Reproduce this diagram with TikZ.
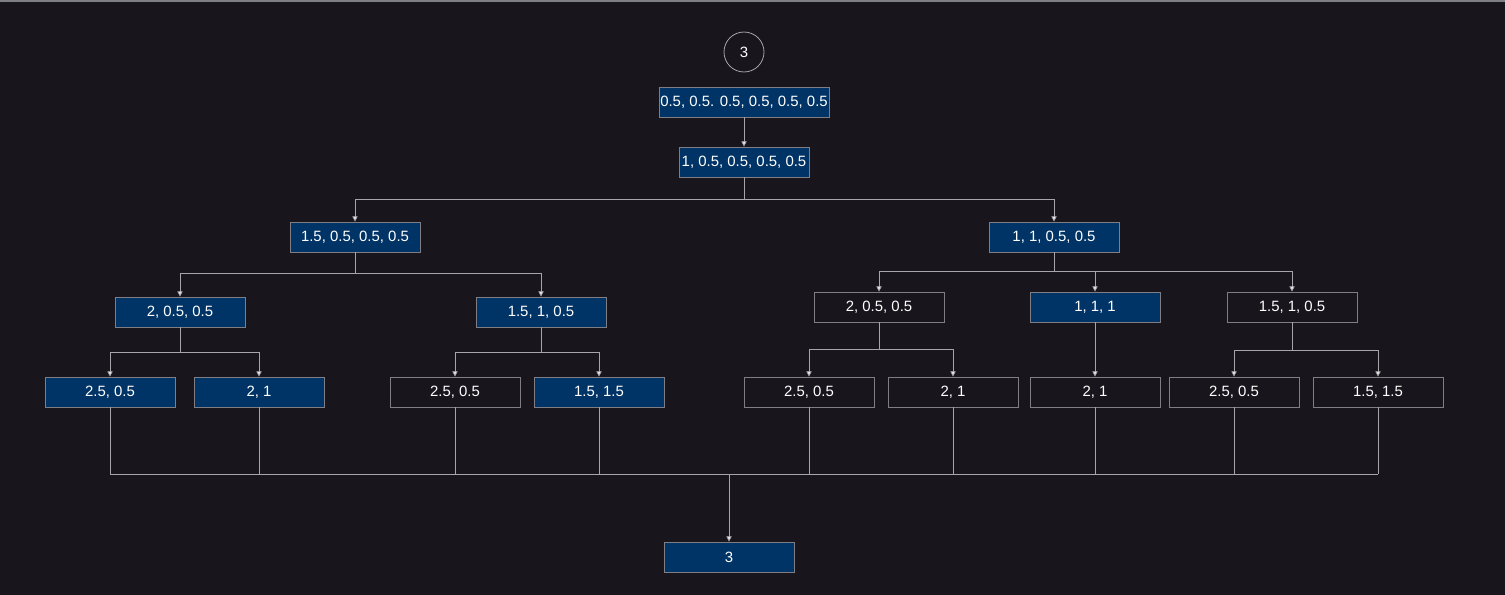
\documentclass[tikz,border=0pt]{standalone}
\usepackage{fontspec}
\setmainfont{Liberation Sans}
\usetikzlibrary{positioning,arrows.meta,calc}
\definecolor{bgdark}{HTML}{18151C}
\definecolor{navyfill}{HTML}{003366}
\definecolor{edgegray}{HTML}{7E7E84}
\definecolor{linegray}{HTML}{A6A6AA}

\tikzset{
    box/.style={draw=edgegray, line width=0.45pt, minimum width=2.6cm, minimum height=0.6cm,
        inner sep=0pt, text=white, font=\fontsize{8.5}{10}\selectfont},
    boxsel/.style={box, fill=navyfill},
    link/.style={draw=linegray, line width=0.45pt},
    arr/.style={link, -{Triangle[width=3pt,length=3pt,fill=white!85!linegray]}},
}

\begin{document}
\begin{tikzpicture}[x=0.02cm, y=-0.02cm]
        % background and frame
        \fill[bgdark] (0,0) rectangle (1505,595);
        \useasboundingbox (0,0) rectangle (1505,595);
        \draw[edgegray, line width=0.6pt] (0,1) -- (1505,1);

        % Level 0: start
        \node[circle, draw=linegray, line width=0.45pt, minimum size=0.8cm, inner sep=0pt,
            text=white, font=\fontsize{8.5}{10}\selectfont] (start) at (744,52) {3};

        % Level 1
        \node[boxsel, minimum width=3.4cm] (root) at (744,102) {0.5, 0.5. 0.5, 0.5, 0.5, 0.5};
        \node[boxsel] (n1) at (744,162) {1, 0.5, 0.5, 0.5, 0.5};
        \draw[arr] (root) -- (n1);

        % Level 2
        \node[boxsel] (n2l) at (355,237) {1.5, 0.5, 0.5, 0.5};
        \node[boxsel] (n2r) at (1054,237) {1, 1, 0.5, 0.5};
        \draw[arr] (n1.south) -- ++(0,22) -| (n2l.north);
        \draw[arr] (n1.south) -- ++(0,22) -| (n2r.north);

        % Level 3, left
        \node[boxsel] (n3a) at (180,312) {2, 0.5, 0.5};
        \node[boxsel] (n3b) at (541,312) {1.5, 1, 0.5};
        \draw[arr] (n2l.south) -- ++(0,21) -| (n3a.north);
        \draw[arr] (n2l.south) -- ++(0,21) -| (n3b.north);

        % Level 3, right
        \node[box] (n3c) at (879,307) {2, 0.5, 0.5};
        \node[boxsel] (n3d) at (1095,307) {1, 1, 1};
        \node[box] (n3e) at (1292,307) {1.5, 1, 0.5};
        \draw[arr] (n2r.south) -- ++(0,19) -| (n3c.north);
        \draw[arr] (n2r.south) -- ++(0,19) -| (n3d.north);
        \draw[arr] (n2r.south) -- ++(0,19) -| (n3e.north);

        % Level 4
        \node[boxsel] (l1) at (110,392) {2.5, 0.5};
        \node[boxsel] (l2) at (259,392) {2, 1};
        \node[box]    (l3) at (455,392) {2.5, 0.5};
        \node[boxsel] (l4) at (599,392) {1.5, 1.5};
        \node[box]    (l5) at (809,392) {2.5, 0.5};
        \node[box]    (l6) at (953,392) {2, 1};
        \node[box]    (l7) at (1095,392) {2, 1};
        \node[box]    (l8) at (1234,392) {2.5, 0.5};
        \node[box]    (l9) at (1378,392) {1.5, 1.5};
        \draw[arr] (n3a.south) -- ++(0,25) -| (l1.north);
        \draw[arr] (n3a.south) -- ++(0,25) -| (l2.north);
        \draw[arr] (n3b.south) -- ++(0,25) -| (l3.north);
        \draw[arr] (n3b.south) -- ++(0,25) -| (l4.north);
        \draw[arr] (n3c.south) -- ++(0,27) -| (l5.north);
        \draw[arr] (n3c.south) -- ++(0,27) -| (l6.north);
        \draw[arr] (n3d) -- (l7);
        \draw[arr] (n3e.south) -- ++(0,28) -| (l8.north);
        \draw[arr] (n3e.south) -- ++(0,28) -| (l9.north);

        % collect all leaves
        \coordinate (busl) at (110,474);
        \coordinate (busr) at (1378,474);
        \draw[link] (busl) -- (busr);
        \foreach \leaf in {l1,l2,l3,l4,l5,l6,l7,l8,l9}
            \draw[link] (\leaf.south) -- (\leaf.south |- busl);

        % result
        \node[boxsel] (result) at (729,557) {3};
        \draw[arr] (result.north |- busl) -- (result.north);
    \end{tikzpicture}
\end{document}
